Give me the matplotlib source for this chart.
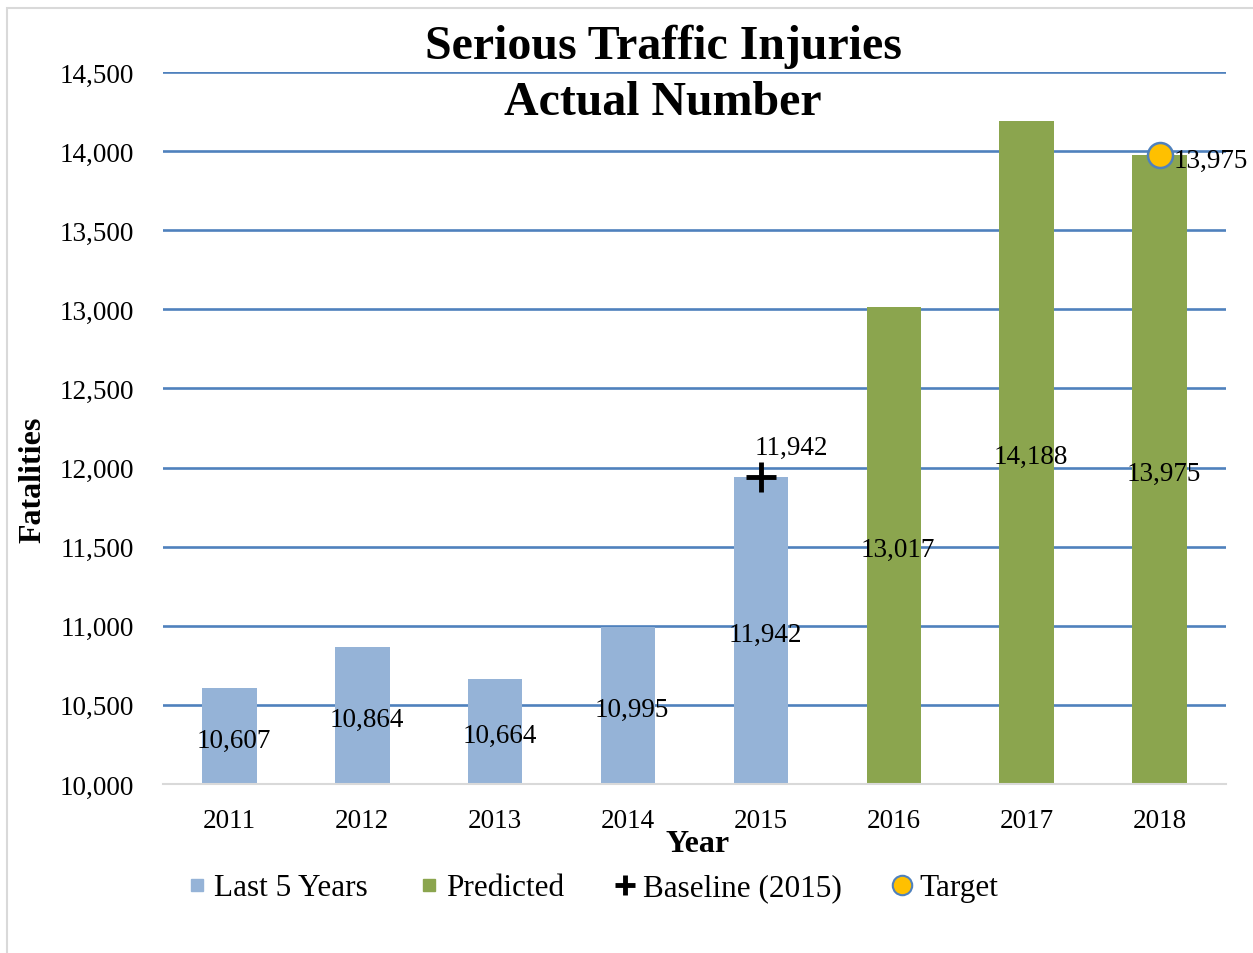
import matplotlib.pyplot as plt
from matplotlib.lines import Line2D
from matplotlib.patches import Rectangle
from matplotlib.ticker import FuncFormatter

plt.rcParams['font.family'] = ['Liberation Serif', 'DejaVu Serif']

# data
years = ['2011', '2012', '2013', '2014', '2015', '2016', '2017', '2018']
last5 = [10607, 10864, 10664, 10995, 11942]
predicted = [13017, 14188, 13975]
baseline_year, baseline_val = 4, 11942
target_year, target_val = 7, 13975
yticks = [10000, 10500, 11000, 11500, 12000, 12500, 13000, 13500, 14000, 14500]

BLUE = '#95B3D7'
GREEN = '#8BA54E'
GRID = '#4F81BD'
W, H = 1253, 954

fig = plt.figure(figsize=(W / 100, H / 100), dpi=100)
ax = fig.add_axes([163 / W, 1 - 785 / H, (1226 - 163) / W, (785 - 73) / H])

x_last = list(range(len(last5)))
x_pred = list(range(len(last5), len(years)))
bw = 0.41
ax.bar(x_last, [v - 10000 for v in last5], bottom=10000, width=bw, color=BLUE, zorder=3)
ax.bar(x_pred, [v - 10000 for v in predicted], bottom=10000, width=bw, color=GREEN, zorder=3)

# labels in the middle of each bar
for xi, v in zip(x_last + x_pred, last5 + predicted):
    ax.annotate(f'{v:,}', (xi, (10000 + v) / 2), xytext=(3, -3), textcoords='offset points',
                ha='center', va='center', fontsize=19.5, zorder=5)

# baseline marker and target marker
ax.plot(baseline_year, baseline_val, marker='+', ms=22, mew=3.5, color='black', zorder=6,
        clip_on=False)
ax.annotate(f'{baseline_val:,}', (baseline_year, baseline_val), xytext=(22, 21),
            textcoords='offset points', ha='center', va='center', fontsize=19.5, zorder=6)
ax.plot(target_year, target_val, marker='o', ms=18, mfc='#FFC000', mec=GRID, mew=1.8,
        zorder=6, clip_on=False)
ax.annotate(f'{target_val:,}', (target_year, target_val), xytext=(37, -4),
            textcoords='offset points', ha='center', va='center', fontsize=19.5, zorder=6)

ax.set_xlim(-0.5, len(years) - 0.5)
ax.set_ylim(10000, 14500)
ax.set_xticks(range(len(years)))
ax.set_xticklabels(years)
ax.set_yticks(yticks)
ax.yaxis.set_major_formatter(FuncFormatter(lambda v, p: f'{int(v):,}'))
ax.tick_params(axis='both', length=0, labelsize=19.5)
ax.tick_params(axis='y', pad=21)
ax.tick_params(axis='x', pad=17)
ax.grid(axis='y', color=GRID, lw=1.9, zorder=0)
ax.set_axisbelow(True)
for s in ['top', 'right', 'left']:
    ax.spines[s].set_visible(False)
ax.spines['bottom'].set_color('#D9D9D9')
ax.spines['bottom'].set_linewidth(1.5)
ax.spines['bottom'].set_zorder(4)

fig.text(698 / W, 1 - 845 / H, 'Year', ha='center', va='center', fontsize=23, fontweight='bold')
fig.text(33 / W, 1 - 480 / H, 'Fatalities', ha='center', va='center', rotation=90,
         fontsize=23, fontweight='bold')
fig.text(663 / W, 1 - 47 / H, 'Serious Traffic Injuries', ha='center', va='center',
         fontsize=34.5, fontweight='bold')
fig.text(663 / W, 1 - 103 / H, 'Actual Number', ha='center', va='center',
         fontsize=34.5, fontweight='bold')

handles = [
    Line2D([], [], ls='none', marker='s', ms=9, mfc=BLUE, mec=BLUE),
    Line2D([], [], ls='none', marker='s', ms=9, mfc=GREEN, mec=GREEN),
    Line2D([], [], ls='none', marker='+', ms=15, mew=3.5, color='black'),
    Line2D([], [], ls='none', marker='o', ms=14, mfc='#FFC000', mec=GRID, mew=1.5),
]
fig.legend(handles, ['Last 5 Years', 'Predicted', 'Baseline (2015)', 'Target'],
           loc='center', bbox_to_anchor=(594 / W, 1 - 889 / H), ncol=4, frameon=False,
           fontsize=22.5, handlelength=0.5, handletextpad=0.3, columnspacing=1.7)

# outer chart border (left and top edges visible)
fig.patches.append(Rectangle((7 / W, -0.1), 1.2, 1 - 9 / H + 0.1, transform=fig.transFigure,
                             fill=False, ec='#D9D9D9', lw=1.5))

fig.savefig('out.png', dpi=100)
